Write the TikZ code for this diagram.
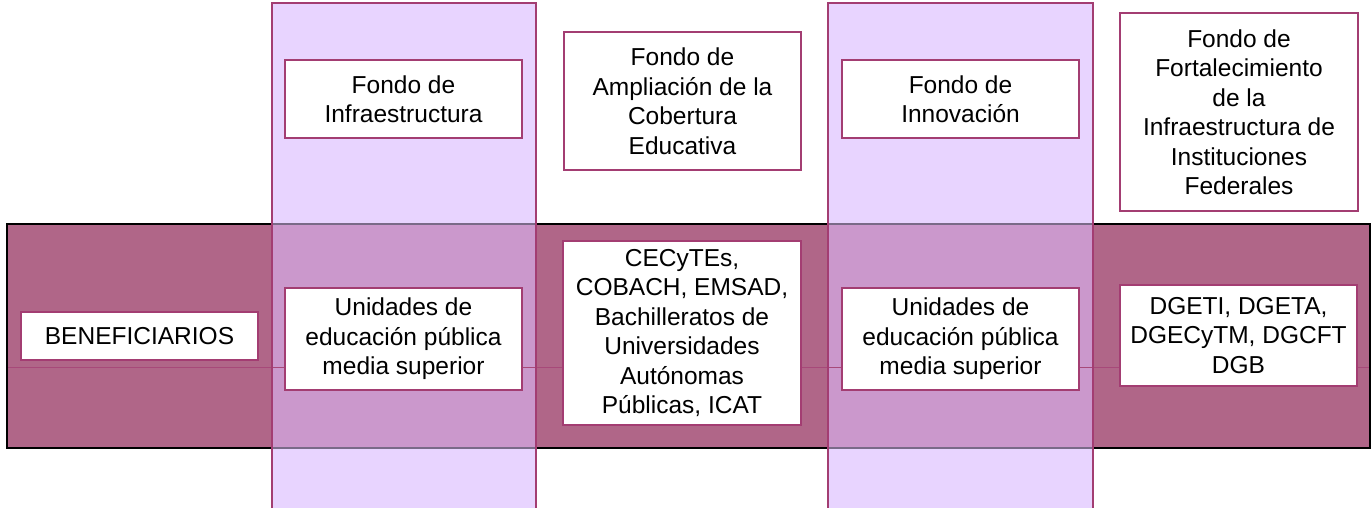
\documentclass[tikz,border=0pt]{standalone}
\usepackage{fontspec}
\setmainfont{Liberation Sans}
\definecolor{band}{HTML}{B06688}
\definecolor{lav}{HTML}{E8D4FF}
\definecolor{over}{HTML}{CB98CC}
\definecolor{edge}{HTML}{A33D72}
\definecolor{greyline}{HTML}{7A6A88}
\begin{document}
\begin{tikzpicture}[x=1pt,y=-1pt,
  box/.style={draw=edge, line width=1.6pt, fill=white, inner sep=0pt, align=center,
    font=\fontsize{24.5}{29.5}\selectfont, text=black},
  col/.style={draw=edge, line width=1.3pt}]
\useasboundingbox (0,0) rectangle (1372,507);
% band
\fill[band] (7,224) rectangle (1370,448);
\draw[black, line width=1.8pt] (7,224) rectangle (1370,448);
% columns
\fill[lav] (272,3) rectangle (536,512);
\fill[lav] (828,3) rectangle (1093,512);
\fill[over] (272,224) rectangle (536,448);
\fill[over] (828,224) rectangle (1093,448);
\draw[greyline, line width=1.8pt] (272,224) -- (536,224) (272,448) -- (536,448)
  (828,224) -- (1093,224) (828,448) -- (1093,448);
\draw[edge!70!band, line width=0.6pt] (8,367.5) -- (1369,367.5);
\draw[col] (272,512) -- (272,3) -- (536,3) -- (536,512);
\draw[col] (828,512) -- (828,3) -- (1093,3) -- (1093,512);
% boxes
\node[box, minimum width=237pt, minimum height=78pt] (inf) at (403.5,99) {Fondo de\\Infraestructura};
\node[box, minimum width=237pt, minimum height=138pt] (amp) at (682.5,101) {Fondo de\\Ampliación de la\\Cobertura\\Educativa};
\node[box, minimum width=237pt, minimum height=78pt] (inn) at (960.5,99) {Fondo de\\Innovación};
\node[box, minimum width=238pt, minimum height=198pt] (fort) at (1239,112) {Fondo de\\Fortalecimiento\\de la\\Infraestructura de\\Instituciones\\Federales};
\node[box, minimum width=237pt, minimum height=48pt] (ben) at (139.5,336) {BENEFICIARIOS};
\node[box, minimum width=237pt, minimum height=102pt] (uni1) at (403.5,339) {Unidades de\\educación pública\\media superior};
\node[box, minimum width=238pt, minimum height=184pt] (cec) at (682,333) {CECyTEs,\\COBACH, EMSAD,\\Bachilleratos de\\Universidades\\Autónomas\\Públicas, ICAT};
\node[box, minimum width=237pt, minimum height=102pt] (uni2) at (960.5,339) {Unidades de\\educación pública\\media superior};
\node[box, minimum width=237pt, minimum height=101pt] (dg) at (1238.5,335.5) {DGETI, DGETA,\\DGECyTM, DGCFT\\DGB};
\end{tikzpicture}
\end{document}
